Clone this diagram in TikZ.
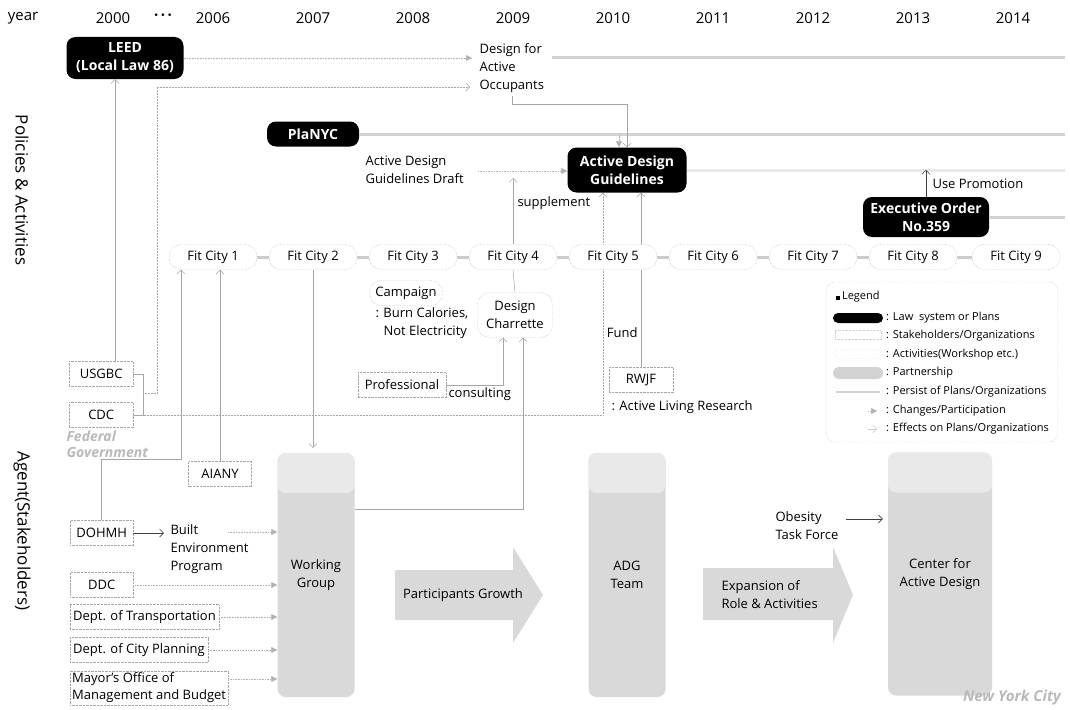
\documentclass[tikz,border=0pt]{standalone}
\usepackage{fontspec}
\setmainfont{Open Sans}
\usetikzlibrary{arrows.meta,positioning,backgrounds}

\tikzset{
  every node/.style={font=\fontsize{13}{18}\selectfont, text=black},
  yearlbl/.style={font=\fontsize{15}{18}\selectfont},
  sidelbl/.style={font=\fontsize{17}{20}\selectfont, rotate=-90},
  law/.style={fill=black, text=white, font=\bfseries\fontsize{14}{18}\selectfont,
    rounded corners=9pt, align=center, inner sep=1pt},
  holder/.style={draw=gray!70, densely dotted, fill=white, inner sep=3pt,
    minimum height=25pt, align=left},
  activity/.style={draw=gray!70, densely dotted, rounded corners=12pt, fill=white,
    minimum width=88pt, minimum height=25pt, inner sep=2pt, align=center},
  team/.style={fill=gray!30, rounded corners=8pt, align=center, inner sep=0pt,
    path picture={\fill[gray!17] (path picture bounding box.north west)
      rectangle ([yshift=-40pt]path picture bounding box.north east);}},
  bigarrow/.style={fill=gray!30},
  fedlbl/.style={text=gray!55, font=\bfseries\itshape\fontsize{14}{16}\selectfont, align=left},
  legtext/.style={anchor=west, inner sep=0pt, font=\fontsize{11}{12}\selectfont},
  persist/.style={gray!35, line width=3pt},
  partner/.style={gray!40, line width=3pt},
  effect/.style={gray!70, line width=0.5pt, -{Straight Barb[length=4pt,width=8pt]}},
  darkeffect/.style={black!75, line width=0.6pt, -{Straight Barb[length=4pt,width=8pt]}},
  change/.style={gray!60, densely dotted, line width=0.6pt,
    -{Triangle[length=6pt,width=6pt,fill=gray!60]}},
}

\begin{document}
\begin{tikzpicture}[x=1pt, y=-1pt]
    \useasboundingbox (0,0) rectangle (1070,709);

    % Year header
    \node[yearlbl] (year) at (23,18) {year};
    \node[yearlbl] (dots) at (163,17) {\textbf{·\,·\,·}};
    \foreach \yr/\xx in {2000/113, 2006/213, 2007/313, 2008/413, 2009/513,
                         2010/613, 2011/713, 2012/813, 2013/913, 2014/1013}
        \node[yearlbl] (y\yr) at (\xx,18) {\yr};

    % Side labels
    \node[sidelbl] (policies) at (22,190) {Policies \& Activities};
    \node[sidelbl] (agents) at (22,531) {Agent(Stakeholders)};

    % Laws and plans
    \node[law, minimum width=117pt, minimum height=42pt] (leed) at (125,58) {LEED\\(Local Law 86)};
    \node[law, minimum width=92pt, minimum height=25pt] (planyc) at (313,134) {PlaNYC};
    \node[law, minimum width=119pt, minimum height=45pt] (adg) at (627,170) {Active Design\\Guidelines};
    \node[law, minimum width=126pt, minimum height=40pt] (eo) at (926,217) {Executive Order\\No.359};

    \node[anchor=north west, align=left] (dfao) at (476,40) {Design for\\Active\\Occupants};
    \node[anchor=north west, align=left] (draft) at (362,152) {Active Design\\Guidelines Draft};

    % Persist of plans
    \draw[persist] ([xshift=4pt]dfao.east |- leed.east) -- (1065,58);
    \draw[persist] (planyc.east) -- (1065,134);
    \draw[gray!18, line width=3pt] (adg.east) -- (1065,170);
    \draw[persist] (eo.east) -- (1065,217);

    % Changes into the guidelines
    \draw[change, shorten >=4pt] (leed.east) -- (dfao.west |- leed.east);
    \draw[effect] (dfao.south) -- ++(0,8) -| (adg.north);
    \draw[change] ([xshift=-8pt]adg.north |- planyc.east) -- ([xshift=-8pt]adg.north);
    \coordinate (draftend) at (478,171);
    \draw[change] (draftend) -- (draftend -| adg.west);

    % Fit City events
    \foreach \i/\xx in {1/213, 2/313, 3/413, 4/513, 5/613, 6/713, 7/813, 8/913, 9/1016}
        \node[activity] (fc\i) at (\xx,257) {Fit City \i};
    \foreach \i/\j in {1/2, 2/3, 3/4, 4/5, 5/6, 6/7, 7/8, 8/9}
        \draw[partner] (fc\i.east) -- (fc\j.west);

    \draw[effect, shorten >=7pt] (fc4.north) -- (fc4.north |- draftend);
    \node[anchor=west] (supp) at (514,203) {supplement};

    \draw[darkeffect, shorten >=2pt] (eo.north) -- ++(0,-29) coordinate (eotop);
    \node[anchor=west] (usep) at (929,184) {Use Promotion};

    % Activities under Fit City
    \node[activity, minimum width=73pt, minimum height=25pt] (camp) at (406,293) {Campaign};
    \node[anchor=north west, align=left] (burn) at (372,304) {: Burn Calories,\\\phantom{: }Not Electricity};
    \node[activity, minimum width=75pt, minimum height=45pt] (charrette) at (515,315) {Design\\Charrette};
    \draw[gray!70, line width=0.5pt] (charrette.north) -- (fc4.south);

    \node[holder, minimum width=88pt] (prof) at (402,385) {Professional};
    \draw[effect] (prof.east) -| ([xshift=-12pt]charrette.south);
    \node[anchor=north west] (consult) at (445,384) {consulting};

    \node[holder, minimum width=64pt] (rwjf) at (641,380) {RWJF};
    \node[anchor=east] (fund) at (641,333) {Fund};
    \node[anchor=west] (alr) at (608,407) {: Active Living Research};

    % Federal government
    \node[holder, anchor=west, minimum width=64pt] (usgbc) at (69,374) {USGBC};
    \node[holder, anchor=west, minimum width=64pt] (cdc) at (69,415) {CDC};
    \node[fedlbl, anchor=north west] (fed) at (63,427) {Federal\\Government};
    \draw[gray!70, line width=0.5pt] (usgbc.east) -- ++(10,0) |- (cdc.east);
    \coordinate (fedmid) at (143,393);
    \coordinate (fedturn) at (157,87);
    \draw[effect, densely dotted, shorten >=6pt] (fedmid) -| (fedturn) -- (fedturn -| dfao.west);
    \draw[effect] ([xshift=-10pt]leed.south |- usgbc.north) -- ([xshift=-10pt]leed.south);

    % Lines that pass behind Fit City 5
    \begin{pgfonlayer}{background}
        \draw[effect, densely dotted] (cdc.east) -| ([xshift=-24pt]adg.south);
        \draw[effect] (rwjf.north) -- (rwjf.north |- adg.south);
    \end{pgfonlayer}

    % City agencies
    \node[holder, minimum width=63pt] (aiany) at (220,474) {AIANY};
    \node[holder, anchor=west, minimum width=63pt] (dohmh) at (70,533) {DOHMH};
    \node[holder, anchor=west, minimum width=63pt] (ddc) at (70,585) {DDC};
    \node[holder, anchor=west] (dot) at (70,617) {Dept. of Transportation};
    \node[holder, anchor=west] (dcp) at (70,650) {Dept. of City Planning};
    \node[holder, anchor=west, inner sep=2pt, font=\fontsize{13}{17}\selectfont] (omb) at (70,688)
        {Mayor’s Office of\\Management and Budget};
    \node[anchor=north west, align=left] (bep) at (167,521) {Built\\Environment\\Program};

    \coordinate (dohturn) at (181,459);
    \draw[effect] (dohmh.north) |- (dohturn) -- (dohturn |- fc1.south);
    \draw[effect] (aiany.north) -- (aiany.north |- fc1.south);
    \draw[darkeffect, shorten >=3pt] (dohmh.east) -- (dohmh.east -| bep.west);

    % Teams
    \node[team, minimum width=77pt, minimum height=244pt] (wg) at (316,575) {Working\\Group};
    \node[team, minimum width=77pt, minimum height=244pt] (adgteam) at (627,575) {ADG\\Team};
    \node[team, minimum width=104pt, minimum height=243pt] (cad) at (940,574) {Center for\\Active Design};

    \draw[effect, shorten >=5pt] (fc2.south) -- (fc2.south |- wg.north);
    \coordinate (bepout) at (228,532);
    \draw[change] (bepout) -- (bepout -| wg.west);
    \draw[change] (ddc.east) -- (ddc.east -| wg.west);
    \draw[change] (dot.east) -- (dot.east -| wg.west);
    \draw[change] (dcp.east) -- (dcp.east -| wg.west);
    \draw[change] ([yshift=9pt]omb.east) -- ([yshift=9pt]omb.east -| wg.west);
    \coordinate (wglink) at (355,509);
    \draw[effect] (wglink) -| ([xshift=8pt]charrette.south);

    % Growth arrows
    \fill[bigarrow] (395,570) -- (513,570) -- (513,547) -- (543,595) -- (513,643)
        -- (513,620) -- (395,620) -- cycle;
    \node (growth) at (463,595) {Participants Growth};
    \fill[bigarrow] (703,568) -- (833,568) -- (833,547) -- (853,595) -- (833,643)
        -- (833,620) -- (703,620) -- cycle;
    \node[anchor=west, align=left] (expand) at (718,595) {Expansion of\\Role \& Activities};

    \node[align=left] (otf) at (807,526) {Obesity\\Task Force};
    \draw[darkeffect, shorten <=4pt, shorten >=5pt] ([yshift=7pt]otf.east) -- ([yshift=7pt]otf.east -| cad.west);

    \node[fedlbl, font=\bfseries\itshape\fontsize{15}{16}\selectfont] (nyc) at (1012,698) {New York City};

    % Legend
    \node[draw=gray!60, densely dotted, rounded corners=8pt, minimum width=231pt,
          minimum height=160pt] (legend) at (942,362) {};
    \node[legtext] (legtitle) at (836,297) {\rule{4pt}{4pt}\,Legend};
    \foreach \yy/\txt [count=\k] in {318/{: Law\ \ system or Plans},
                                     336/{: Stakeholders/Organizations},
                                     355/{: Activities(Workshop etc.)},
                                     373/{: Partnership},
                                     392/{: Persist of Plans/Organizations},
                                     411/{: Changes/Participation},
                                     429/{: Effects on Plans/Organizations}}
        \node[legtext] (leg\k) at (886,\yy) {\txt};
    \node[law, minimum width=50pt, minimum height=10pt, inner sep=0pt, rounded corners=5pt] (smplaw) at (858,318) {};
    \node[holder, draw=gray!35, minimum width=46pt, minimum height=9pt, inner sep=0pt] (smpholder) at (858,335) {};
    \node[activity, draw=gray!35, minimum width=46pt, minimum height=9pt, rounded corners=4pt] (smpact) at (858,354) {};
    \node[fill=gray!35, rounded corners=6pt, minimum width=50pt, minimum height=12pt, inner sep=0pt] (smppart) at (858,373) {};
    \coordinate (smppersist) at (836,392);
    \draw[persist, line width=2pt] (smppersist) -- ++(44,0);
    \coordinate (smpchange) at (868,411);
    \draw[change] (smpchange) -- ++(9,0);
    \coordinate (smpeffect) at (868,429);
    \draw[effect, gray!40] (smpeffect) -- ++(9,0);

\end{tikzpicture}
\end{document}
